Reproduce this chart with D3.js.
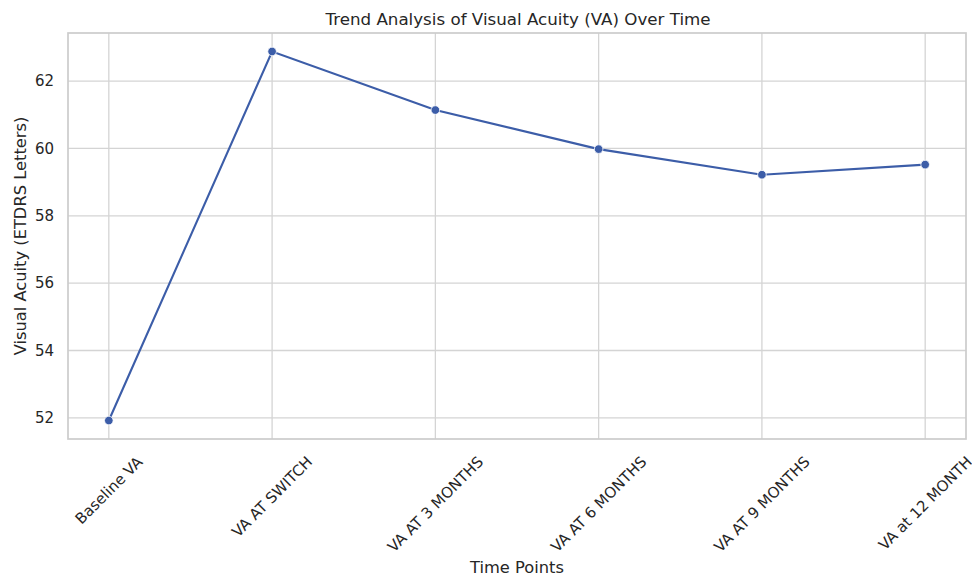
<!DOCTYPE html>
<html>
<head>
<meta charset="utf-8">
<script src="https://cdn.jsdelivr.net/npm/d3@7"></script>
<style>
  body { margin: 0; background: #fff; }
  text { font-family: "DejaVu Sans", sans-serif; fill: #262626; }
</style>
</head>
<body>
<div id="chart"></div>
<script>
// data
var timePoints = ["Baseline VA", "VA AT SWITCH", "VA AT 3 MONTHS", "VA AT 6 MONTHS", "VA AT 9 MONTHS", "VA at 12 MONTH"];
var vaValues = [51.92, 62.88, 61.14, 59.98, 59.22, 59.52];
var yTicks = [52, 54, 56, 58, 60, 62];

var data = timePoints.map(function (t, i) { return {label: t, va: vaValues[i]}; });

// set the dimensions and margins of the graph
var margin = {top: 33, right: 6, bottom: 139, left: 68},
    width = 972 - margin.left - margin.right,
    height = 578 - margin.top - margin.bottom;

var svg = d3.select("#chart")
    .append("svg")
    .attr("width", 972)
    .attr("height", 578)
    .append("g")
    .attr("transform", "translate(" + margin.left + "," + margin.top + ")");

// X scale (categorical, matplotlib-like margins)
var x = d3.scalePoint()
    .domain(timePoints)
    .range([0, width])
    .padding(0.25);

// Y scale with 5% margins like matplotlib
var ext = d3.extent(vaValues);
var pad = (ext[1] - ext[0]) * 0.05;
var y = d3.scaleLinear()
    .domain([ext[0] - pad, ext[1] + pad])
    .range([height, 0]);

// grid lines
svg.append("g")
    .selectAll("line.hgrid")
    .data(yTicks)
    .enter()
    .append("line")
    .attr("x1", 0).attr("x2", width)
    .attr("y1", function (d) { return y(d); })
    .attr("y2", function (d) { return y(d); })
    .attr("stroke", "#d4d4d4")
    .attr("stroke-width", 1.3);

svg.append("g")
    .selectAll("line.vgrid")
    .data(timePoints)
    .enter()
    .append("line")
    .attr("x1", function (d) { return x(d); })
    .attr("x2", function (d) { return x(d); })
    .attr("y1", 0).attr("y2", height)
    .attr("stroke", "#d4d4d4")
    .attr("stroke-width", 1.3);

// frame
svg.append("rect")
    .attr("x", 0).attr("y", 0)
    .attr("width", width).attr("height", height)
    .attr("fill", "none")
    .attr("stroke", "#cccccc")
    .attr("stroke-width", 1.7);

// Y axis tick labels
svg.append("g")
    .selectAll("text")
    .data(yTicks)
    .enter()
    .append("text")
    .attr("x", -14)
    .attr("y", function (d) { return y(d); })
    .attr("dy", "0.35em")
    .attr("text-anchor", "end")
    .style("font-size", "15px")
    .text(function (d) { return d; });

// X axis tick labels, rotated 45 and centred under the tick
var fs = 15;
svg.append("g")
    .selectAll("text")
    .data(timePoints)
    .enter()
    .append("text")
    .attr("text-anchor", "middle")
    .attr("dy", "0.35em")
    .style("font-size", fs + "px")
    .text(function (d) { return d; })
    .attr("transform", function (d) {
        var w = this.getComputedTextLength();
        var half = (w + fs * 1.164) / (2 * Math.SQRT2);
        return "translate(" + x(d) + "," + (height + 14 + half) + ") rotate(-45)";
    });

// line
var line = d3.line()
    .x(function (d) { return x(d.label); })
    .y(function (d) { return y(d.va); });

svg.append("path")
    .datum(data)
    .attr("d", line)
    .attr("fill", "none")
    .attr("stroke", "#3c5da8")
    .attr("stroke-width", 2.1);

// dots
svg.append("g")
    .selectAll("circle")
    .data(data)
    .enter()
    .append("circle")
    .attr("cx", function (d) { return x(d.label); })
    .attr("cy", function (d) { return y(d.va); })
    .attr("r", 4.3)
    .attr("fill", "#3c5da8")
    .attr("stroke", "#fff")
    .attr("stroke-width", 0.8);

// title
svg.append("text")
    .attr("x", width / 2 + 1)
    .attr("y", -8)
    .attr("text-anchor", "middle")
    .style("font-size", "16.7px")
    .text("Trend Analysis of Visual Acuity (VA) Over Time");

// X axis label
svg.append("text")
    .attr("x", width / 2)
    .attr("y", 578 - margin.top - 5)
    .attr("text-anchor", "middle")
    .style("font-size", "16.3px")
    .text("Time Points");

// Y axis label
svg.append("text")
    .attr("transform", "rotate(-90)")
    .attr("x", -height / 2)
    .attr("y", -margin.left + 26)
    .attr("text-anchor", "middle")
    .style("font-size", "16.3px")
    .text("Visual Acuity (ETDRS Letters)");
</script>
</body>
</html>
